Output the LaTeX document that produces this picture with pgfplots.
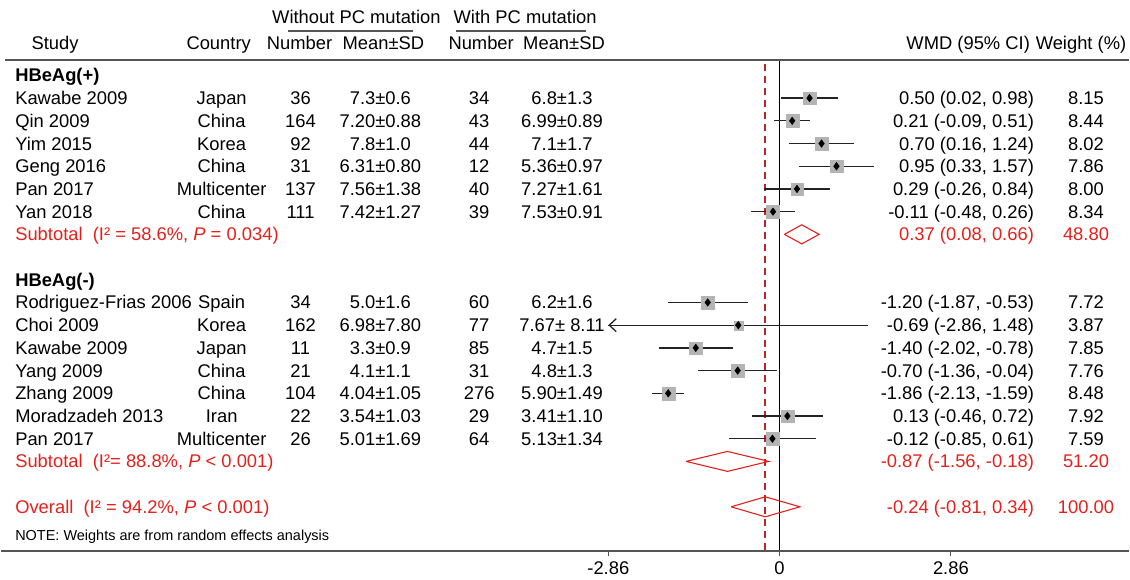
\documentclass[border=0pt]{standalone}
\usepackage{pgfplots}
\pgfplotsset{compat=1.18}
\usepackage{pgfplotstable}
\usepackage{fontspec}
\setmainfont{Liberation Sans}
\usetikzlibrary{arrows.meta}
\definecolor{txtred}{RGB}{228,32,28}
\definecolor{dashred}{RGB}{185,40,40}
\definecolor{boxgray}{RGB}{180,180,180}
\definecolor{rulegray}{RGB}{85,85,85}
\definecolor{cigray}{RGB}{35,35,35}

% k = row index (0 = first study), est, lower, upper, weight
\pgfplotstableread{
k est lo hi w
0 0.50 0.02 0.98 8.15
1 0.21 -0.09 0.51 8.44
2 0.70 0.16 1.24 8.02
3 0.95 0.33 1.57 7.86
4 0.29 -0.26 0.84 8.00
5 -0.11 -0.48 0.26 8.34
9 -1.20 -1.87 -0.53 7.72
10 -0.69 -2.86 1.48 3.87
11 -1.40 -2.02 -0.78 7.85
12 -0.70 -1.36 -0.04 7.76
13 -1.86 -2.13 -1.59 8.48
14 0.13 -0.46 0.72 7.92
15 -0.12 -0.85 0.61 7.59
}\studies

\begin{document}
\begin{tikzpicture}[font=\fontsize{18.4}{22}\selectfont,
  L/.style={anchor=base west, yshift=-6.55pt, inner sep=0pt},
  C/.style={anchor=base, yshift=-6.55pt, inner sep=0pt},
  R/.style={anchor=base east, yshift=-6.55pt, inner sep=0pt}]
% ---------- data layer (x in WMD units, y in rows) ----------
\begin{axis}[scale only axis, width=1130pt, height=581pt,
  xmin=-13, xmax=5.8333, ymin=-4.321, ymax=21.218, y dir=reverse,
  hide axis, clip=false]
\path (rel axis cs:0,0) (rel axis cs:1,1);
% reference lines
\draw[black, line width=1.4pt] (axis cs:0,-1.684) -- (axis cs:0,19.934);
\draw[dashred, line width=1.6pt, dash pattern=on 7pt off 5pt] (axis cs:-0.24,-1.50) -- (axis cs:-0.24,19.934);
% ticks
\draw[rulegray, line width=1.2pt] (axis cs:-2.86,19.934) -- (axis cs:-2.86,20.18);
\draw[rulegray, line width=1.2pt] (axis cs:0,19.934) -- (axis cs:0,20.18);
\draw[rulegray, line width=1.2pt] (axis cs:2.86,19.934) -- (axis cs:2.86,20.18);
\node[C] at (axis cs:-2.86,20.70) {-2.86};
\node[C] at (axis cs:0,20.70) {0};
\node[C] at (axis cs:2.86,20.70) {2.86};
% weighted boxes
\addplot[scatter, only marks, mark=square*,
  scatter/use mapped color={draw=boxgray, fill=boxgray},
  mark options={line width=0.1pt},
  visualization depends on={\thisrow{w} \as \wt},
  scatter/@pre marker code/.append style={/tikz/mark size={2.25*sqrt(\wt)}}]
  table[x=est, y=k] {\studies};
% confidence intervals
\addplot[draw=none, mark=none,
  error bars/.cd, x dir=both, x explicit, error mark=none,
  error bar style={line width=1.3pt, draw=cigray, solid}]
  table[x=est, y=k, x error plus expr=\thisrow{hi}-\thisrow{est},
        x error minus expr=\thisrow{est}-\thisrow{lo}] {\studies};
% arrow for truncated CI (Choi 2009)
\addplot[cigray, line width=1.3pt, -{Straight Barb[length=7pt, width=13pt]}] coordinates {(-2.6,10) (-2.86,10)};
% point estimates
\addplot[only marks, mark=diamond*, mark size=3.8pt, black] table[x=est, y=k] {\studies};
% pooled diamonds
\addplot[txtred, line width=1.1pt, line join=miter, mark=none] coordinates {(0.08,6) (0.37,5.58) (0.66,6) (0.37,6.42) (0.08,6)};
\addplot[txtred, line width=1.1pt, line join=miter, mark=none] coordinates {(-1.56,16) (-0.87,15.56) (-0.18,16) (-0.87,16.44) (-1.56,16)};
\addplot[txtred, line width=1.1pt, line join=miter, mark=none] coordinates {(-0.81,18) (-0.24,17.56) (0.34,18) (-0.24,18.44) (-0.81,18)};
\end{axis}
% ---------- text layer (x in pixels, y in rows) ----------
\begin{scope}[x=1pt, y=-22.75pt, shift={(0pt,482.7pt)}]
\node[C] at (356,-3.574) {Without PC mutation};
\node[C] at (525,-3.574) {With PC mutation};
\draw[rulegray, line width=1.3pt] (287,-2.958) -- (413,-2.958);
\draw[rulegray, line width=1.3pt] (456,-2.958) -- (586,-2.958);
\node[C] at (54,-2.431) {Study};
\node[C] at (218,-2.431) {Country};
\node[C] at (299,-2.431) {Number};
\node[C] at (383,-2.431) {Mean±SD};
\node[C] at (481,-2.431) {Number};
\node[C] at (564,-2.431) {Mean±SD};
\node[R] at (1031,-2.431) {WMD (95\% CI)};
\node[C] at (1082,-2.431) {Weight (\%)};
\draw[rulegray, line width=2.2pt] (4,-1.684) -- (1130,-1.684);
\draw[rulegray, line width=2.2pt] (0,19.934) -- (1130,19.934);
\node[L] at (14,-1) {\bfseries HBeAg(+)};
\foreach \k/\s/\c/\na/\ma/\nb/\mb/\ci/\wt in {
 0/Kawabe 2009/Japan/36/7.3±0.6/34/6.8±1.3/{0.50 (0.02, 0.98)}/8.15,
 1/Qin 2009/China/164/7.20±0.88/43/6.99±0.89/{0.21 (-0.09, 0.51)}/8.44,
 2/Yim 2015/Korea/92/7.8±1.0/44/7.1±1.7/{0.70 (0.16, 1.24)}/8.02,
 3/Geng 2016/China/31/6.31±0.80/12/5.36±0.97/{0.95 (0.33, 1.57)}/7.86,
 4/Pan 2017/Multicenter/137/7.56±1.38/40/7.27±1.61/{0.29 (-0.26, 0.84)}/8.00,
 5/Yan 2018/China/111/7.42±1.27/39/7.53±0.91/{-0.11 (-0.48, 0.26)}/8.34,
 9/Rodriguez-Frias 2006/Spain/34/5.0±1.6/60/6.2±1.6/{-1.20 (-1.87, -0.53)}/7.72,
 10/Choi 2009/Korea/162/6.98±7.80/77/7.67± 8.11/{-0.69 (-2.86, 1.48)}/3.87,
 11/Kawabe 2009/Japan/11/3.3±0.9/85/4.7±1.5/{-1.40 (-2.02, -0.78)}/7.85,
 12/Yang 2009/China/21/4.1±1.1/31/4.8±1.3/{-0.70 (-1.36, -0.04)}/7.76,
 13/Zhang 2009/China/104/4.04±1.05/276/5.90±1.49/{-1.86 (-2.13, -1.59)}/8.48,
 14/Moradzadeh 2013/Iran/22/3.54±1.03/29/3.41±1.10/{0.13 (-0.46, 0.72)}/7.92,
 15/Pan 2017/Multicenter/26/5.01±1.69/64/5.13±1.34/{-0.12 (-0.85, 0.61)}/7.59}{
 \node[L] at (14,\k) {\s};
 \node[C] at (221,\k) {\c};
 \node[C] at (300,\k) {\na};
 \node[C] at (380,\k) {\ma};
 \node[C] at (479,\k) {\nb};
 \node[C] at (562,\k) {\mb};
 \node[R] at (1035,\k) {\ci};
 \node[C] at (1087,\k) {\wt};
}
\node[L, txtred] at (14,6) {Subtotal\ \ (I² = 58.6\%, \textit{P} = 0.034)};
\node[R, txtred] at (1035,6) {0.37 (0.08, 0.66)};
\node[C, txtred] at (1087,6) {48.80};
\node[L] at (14,8) {\bfseries HBeAg(-)};
\node[L, txtred] at (14,16) {Subtotal\ \ (I²= 88.8\%, \textit{P} < 0.001)};
\node[R, txtred] at (1035,16) {-0.87 (-1.56, -0.18)};
\node[C, txtred] at (1087,16) {51.20};
\node[L, txtred] at (14,18) {Overall\ \ (I² = 94.2\%, \textit{P} < 0.001)};
\node[R, txtred] at (1035,18) {-0.24 (-0.81, 0.34)};
\node[C, txtred] at (1087,18) {100.00};
\node[anchor=base west, inner sep=0pt, yshift=-5pt, font=\fontsize{14.5}{17}\selectfont] at (14,19.25) {NOTE: Weights are from random effects analysis};
\end{scope}
\end{tikzpicture}
\end{document}
